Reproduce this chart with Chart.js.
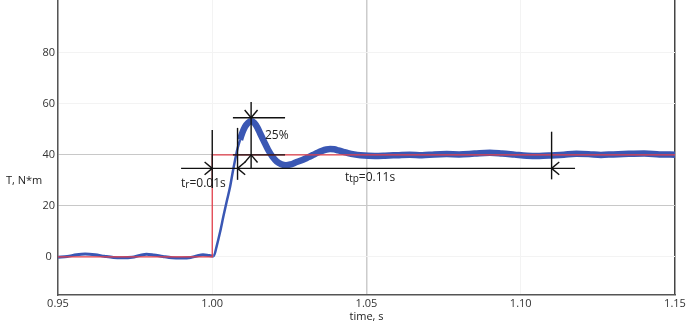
<!DOCTYPE html>
<html lang="en">
<head>
<meta charset="UTF-8">
<title>Torque step response</title>
<script src="https://cdn.jsdelivr.net/npm/chart.js@4.4.0/dist/chart.umd.min.js"></script>
<style>
  html, body { margin: 0; padding: 0; background: #fff; }
  #wrap { width: 686px; height: 325px; }
</style>
</head>
<body>
<div id="wrap"><canvas id="torqueChart"></canvas></div>
<script>
// reference torque, step at t = 1.00 s
const refTime   = [0.95, 1.00, 1.00, 1.15];
const refTorque = [0, 0, 40, 40];

// measured torque
const measTime = [
  0.950, 0.953, 0.956, 0.9588, 0.962, 0.965, 0.968, 0.971, 0.974, 0.9765,
  0.9787, 0.981, 0.984, 0.987, 0.990, 0.993, 0.995, 0.997, 0.999, 1.0005,
  1.0014, 1.0025, 1.0036, 1.0047, 1.0058, 1.0066, 1.0074, 1.0082, 1.0090, 1.0098,
  1.0106, 1.0116, 1.0126, 1.0136, 1.0146, 1.0155, 1.0168, 1.0181, 1.0195, 1.0209,
  1.0224, 1.0239, 1.0255, 1.0270, 1.0294, 1.0310, 1.0327, 1.0342, 1.0356, 1.0370,
  1.0382, 1.0395, 1.0408, 1.0425, 1.0440, 1.0460, 1.0480, 1.0527, 1.0560, 1.0600,
  1.0640, 1.0680, 1.0720, 1.0760, 1.0800, 1.0850, 1.0900, 1.0940, 1.0980, 1.1020,
  1.1060, 1.1100, 1.1140, 1.1180, 1.1220, 1.1260, 1.1300, 1.1350, 1.1400, 1.1450,
  1.1500
];
const measTorque = [
  -0.2, 0.1, 0.8, 1.1, 0.8, 0.2, -0.3, -0.4, -0.2, 0.5,
  1.0, 0.7, 0.1, -0.4, -0.5, -0.3, 0.3, 0.8, 0.5, 0.3,
  4.0, 9.5, 15.8, 21.8, 27.6, 33.0, 38.0, 42.5, 45.9, 48.8,
  51.0, 52.6, 53.2, 52.6, 50.8, 48.5, 45.2, 42.0, 39.3, 37.4,
  36.3, 35.9, 36.3, 37.0, 38.1, 39.0, 40.0, 40.9, 41.6, 42.1,
  42.3, 42.2, 41.8, 41.2, 40.7, 40.2, 39.9, 39.6, 39.7, 39.9,
  40.1, 39.9, 40.2, 40.3, 40.2, 40.5, 40.8, 40.5, 40.1, 39.7,
  39.6, 39.8, 40.1, 40.4, 40.3, 40.0, 40.2, 40.4, 40.5, 40.2,
  40.1
];

const xTicks = [0.95, 1.00, 1.05, 1.10, 1.15];
const yTicks = [0, 20, 40, 60, 80];
const xRange = [0.95, 1.15];
const yRange = [-15, 100.8];

// dimension lines: [t1, T1, t2, T2]
const guideLines = [
  [1.0000, 49.8, 1.0000, 27.0],   // rise start
  [1.0082, 50.6, 1.0082, 30.2],   // rise end
  [0.9899, 34.7, 1.1176, 34.7],   // time axis of tr / ttp
  [1.1100, 49.1, 1.1100, 30.4],   // ttp end
  [1.0067, 54.6, 1.0236, 54.6],   // peak level
  [1.0067, 40.0, 1.0236, 40.0],   // steady level
  [1.0126, 60.8, 1.0126, 34.5]    // overshoot
];
// arrow heads: [t, T, direction]
const guideArrows = [
  [1.0000, 34.7, 'right'],
  [1.0082, 34.7, 'left'],
  [1.1100, 34.7, 'left'],
  [1.0126, 54.6, 'down'],
  [1.0126, 40.0, 'up']
];
// labels: [text, subscript, rest, t, T]
const guideLabels = [
  ['t', 'r', '=0.01s', 0.9899, 28.6],
  ['t', 'tp', '=0.11s', 1.0430, 30.9],
  ['25%', '', '', 1.0171, 47.6]
];

const FONT = '"Open Sans", "Noto Sans", sans-serif';
Chart.defaults.font.family = FONT;

const guidesPlugin = {
  id: 'guides',
  afterDatasetsDraw(chart) {
    const { ctx, scales: { x, y } } = chart;
    ctx.save();
    ctx.strokeStyle = '#111';
    ctx.lineWidth = 1.4;
    guideLines.forEach(([t1, v1, t2, v2]) => {
      ctx.beginPath();
      ctx.moveTo(x.getPixelForValue(t1), y.getPixelForValue(v1));
      ctx.lineTo(x.getPixelForValue(t2), y.getPixelForValue(v2));
      ctx.stroke();
    });
    const angles = { right: 0, left: Math.PI, down: Math.PI / 2, up: -Math.PI / 2 };
    guideArrows.forEach(([t, v, dir]) => {
      const px = x.getPixelForValue(t);
      const py = y.getPixelForValue(v);
      [-1, 1].forEach(s => {
        const a = angles[dir] + Math.PI + s * 0.7;
        ctx.beginPath();
        ctx.moveTo(px, py);
        ctx.lineTo(px + 10 * Math.cos(a), py + 10 * Math.sin(a));
        ctx.stroke();
      });
    });
    ctx.fillStyle = '#222';
    ctx.textBaseline = 'middle';
    guideLabels.forEach(([main, sub, rest, t, v]) => {
      let px = x.getPixelForValue(t);
      const py = y.getPixelForValue(v);
      ctx.font = '12px ' + FONT;
      ctx.fillText(main, px, py);
      px += ctx.measureText(main).width;
      if (sub) {
        ctx.font = '10px ' + FONT;
        ctx.fillText(sub, px, py + 1.5);
        px += ctx.measureText(sub).width;
      }
      if (rest) {
        ctx.font = '12px ' + FONT;
        ctx.fillText(rest, px, py);
      }
    });
    ctx.restore();
  },
  afterDraw(chart) {
    const { ctx, chartArea } = chart;
    ctx.save();
    ctx.fillStyle = '#222';
    ctx.font = '11px ' + FONT;
    ctx.textBaseline = 'middle';
    ctx.textAlign = 'left';
    ctx.fillText('T, N*m', 6, 181);
    ctx.textAlign = 'center';
    ctx.fillText('time, s', (chartArea.left + chartArea.right) / 2, chart.height - 8);
    ctx.restore();
  }
};

const near = (a, b) => Math.abs(a - b) < 1e-6;

new Chart(document.getElementById('torqueChart'), {
  type: 'line',
  data: {
    datasets: [
      {
        label: 'reference',
        data: refTime.map((t, i) => ({ x: t, y: refTorque[i] })),
        borderColor: '#e2404c',
        borderWidth: 1.3,
        pointRadius: 0,
        tension: 0,
        order: 0
      },
      {
        label: 'measured',
        data: measTime.map((t, i) => ({ x: t, y: measTorque[i] })),
        borderColor: '#3a57b4',
        borderWidth: 3,
        pointRadius: 0,
        cubicInterpolationMode: 'monotone',
        segment: {
          borderWidth: c => c.p0.parsed.x >= 1.009 ? 6.5 : (c.p0.parsed.x >= 1.0 ? 2.5 : 3)
        },
        order: 1
      }
    ]
  },
  options: {
    responsive: true,
    maintainAspectRatio: false,
    animation: false,
    layout: { padding: { left: 0, right: 11, top: 0, bottom: 0 } },
    plugins: { legend: { display: false }, tooltip: { enabled: false } },
    scales: {
      x: {
        type: 'linear',
        min: xRange[0],
        max: xRange[1],
        afterBuildTicks: s => { s.ticks = xTicks.map(v => ({ value: v })); },
        afterFit: s => { s.height = 30; s.paddingLeft = 0; s.paddingRight = 0; },
        ticks: {
          padding: 2,
          color: '#333',
          font: { size: 11 },
          maxRotation: 0,
          autoSkip: false,
          callback: v => v.toFixed(2)
        },
        grid: {
          drawTicks: false,
          color: c => near(c.tick.value, 1.05) ? '#cccccc' : (near(c.tick.value, 1.15) ? '#444' : '#f3f3f3'),
          lineWidth: c => (near(c.tick.value, 1.05) || near(c.tick.value, 1.15)) ? 1.5 : 1
        },
        border: { color: '#555', width: 1.5 }
      },
      y: {
        min: yRange[0],
        max: yRange[1],
        afterBuildTicks: s => { s.ticks = yTicks.map(v => ({ value: v })); },
        afterFit: s => { s.width = 58; s.paddingTop = 0; s.paddingBottom = 0; },
        ticks: {
          padding: 3,
          crossAlign: 'center',
          color: '#333',
          font: { size: 11 },
          callback: v => String(v)
        },
        grid: {
          drawTicks: false,
          color: c => (c.tick.value === 20 || c.tick.value === 40) ? '#c8c8c8' : '#f3f3f3'
        },
        border: { color: '#555', width: 1.5 }
      }
    }
  },
  plugins: [guidesPlugin]
});
</script>
</body>
</html>
